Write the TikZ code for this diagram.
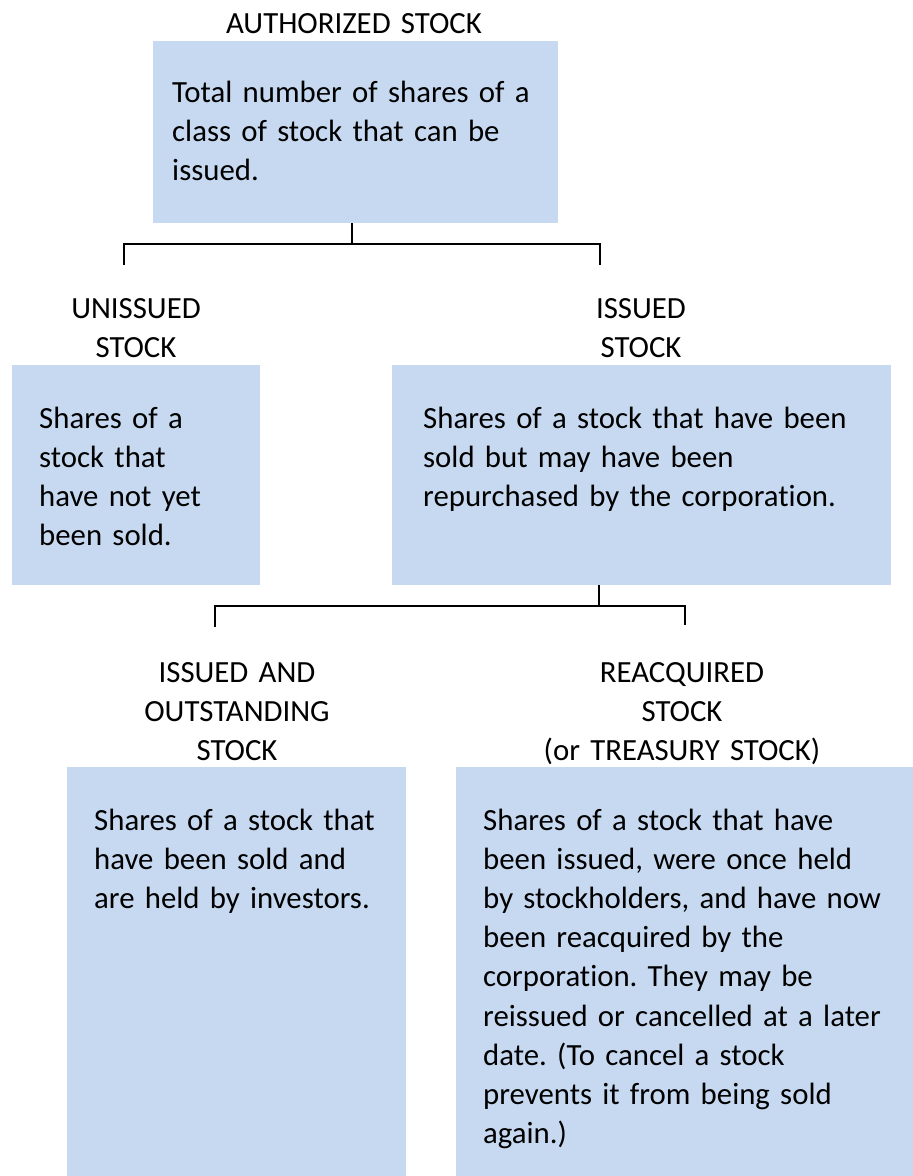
\documentclass[tikz,border=0pt]{standalone}
\usepackage{fontspec}
\setmainfont[Ligatures=NoCommon]{Carlito}
\frenchspacing
\usetikzlibrary{positioning}
\definecolor{ink}{HTML}{000000}
\definecolor{boxblue}{HTML}{C6D9F1}

\begin{document}
\begin{tikzpicture}[x=1pt, y=-1pt,
  font=\fontsize{30.8}{39.2}\selectfont,
  box/.style={fill=boxblue, draw=none, anchor=north west, inner sep=0pt},
  txt/.style={anchor=base west, align=left, inner sep=0pt, text width=#1, text=ink},
  head/.style={anchor=base, align=center, inner sep=0pt, text width=360pt, text=ink},
  link/.style={draw=ink, line width=2.6pt},
]
\useasboundingbox (0,0) rectangle (913,1176);

% top level
\node[head] (authT) at (354, 33) {AUTHORIZED STOCK};
\node[box, minimum width=405pt, minimum height=182pt] (auth) at (153, 41) {};
\node[txt=380pt] (authX) at (172, 102)
  {Total number of shares of a\\ class of stock that can be\\ issued.};

% second level
\node[head] (unT) at (136, 318) {UNISSUED\\ STOCK};
\node[head] (isT) at (641, 318) {ISSUED\\ STOCK};
\node[box, minimum width=248pt, minimum height=220pt] (un) at (12, 365) {};
\node[box, minimum width=499pt, minimum height=220pt] (is) at (392, 365) {};
\node[txt=230pt] (unX) at (39, 428)
  {Shares of a\\ stock that\\ have not yet\\ been sold.};
\node[txt=460pt] (isX) at (423, 428)
  {Shares of a stock that have been\\ sold but may have been\\ repurchased by the corporation.};

% third level
\node[head] (outT) at (237, 682) {ISSUED AND\\ OUTSTANDING\\ STOCK};
\node[head] (reT) at (682, 682) {REACQUIRED\\ STOCK\\ (or TREASURY STOCK)};
\node[box, minimum width=339pt, minimum height=409pt] (out) at (67, 767) {};
\node[box, minimum width=457pt, minimum height=409pt] (re) at (456, 767) {};
\node[txt=310pt] (outX) at (94, 830)
  {Shares of a stock that\\ have been sold and\\ are held by investors.};
\node[txt=420pt] (reX) at (483, 830)
  {Shares of a stock that have\\ been issued, were once held\\ by stockholders, and have now\\
   been reacquired by the\\ corporation. They may be\\ reissued or cancelled at a later\\
   date. (To cancel a stock\\ prevents it from being sold\\ again.)};

% connectors
\coordinate (unTop) at (124, 265);
\coordinate (isTop) at (600, 265);
\coordinate (outTop) at (215, 627);
\coordinate (reTop) at (685, 625);
\draw[link] (auth.south -| 352, 0) -- (352, 244);
\draw[link] (unTop) |- (352, 244) -| (isTop);
\draw[link] (is.south -| 599, 0) -- (599, 606);
\draw[link] (outTop) |- (599, 606) -| (reTop);
\end{tikzpicture}
\end{document}
